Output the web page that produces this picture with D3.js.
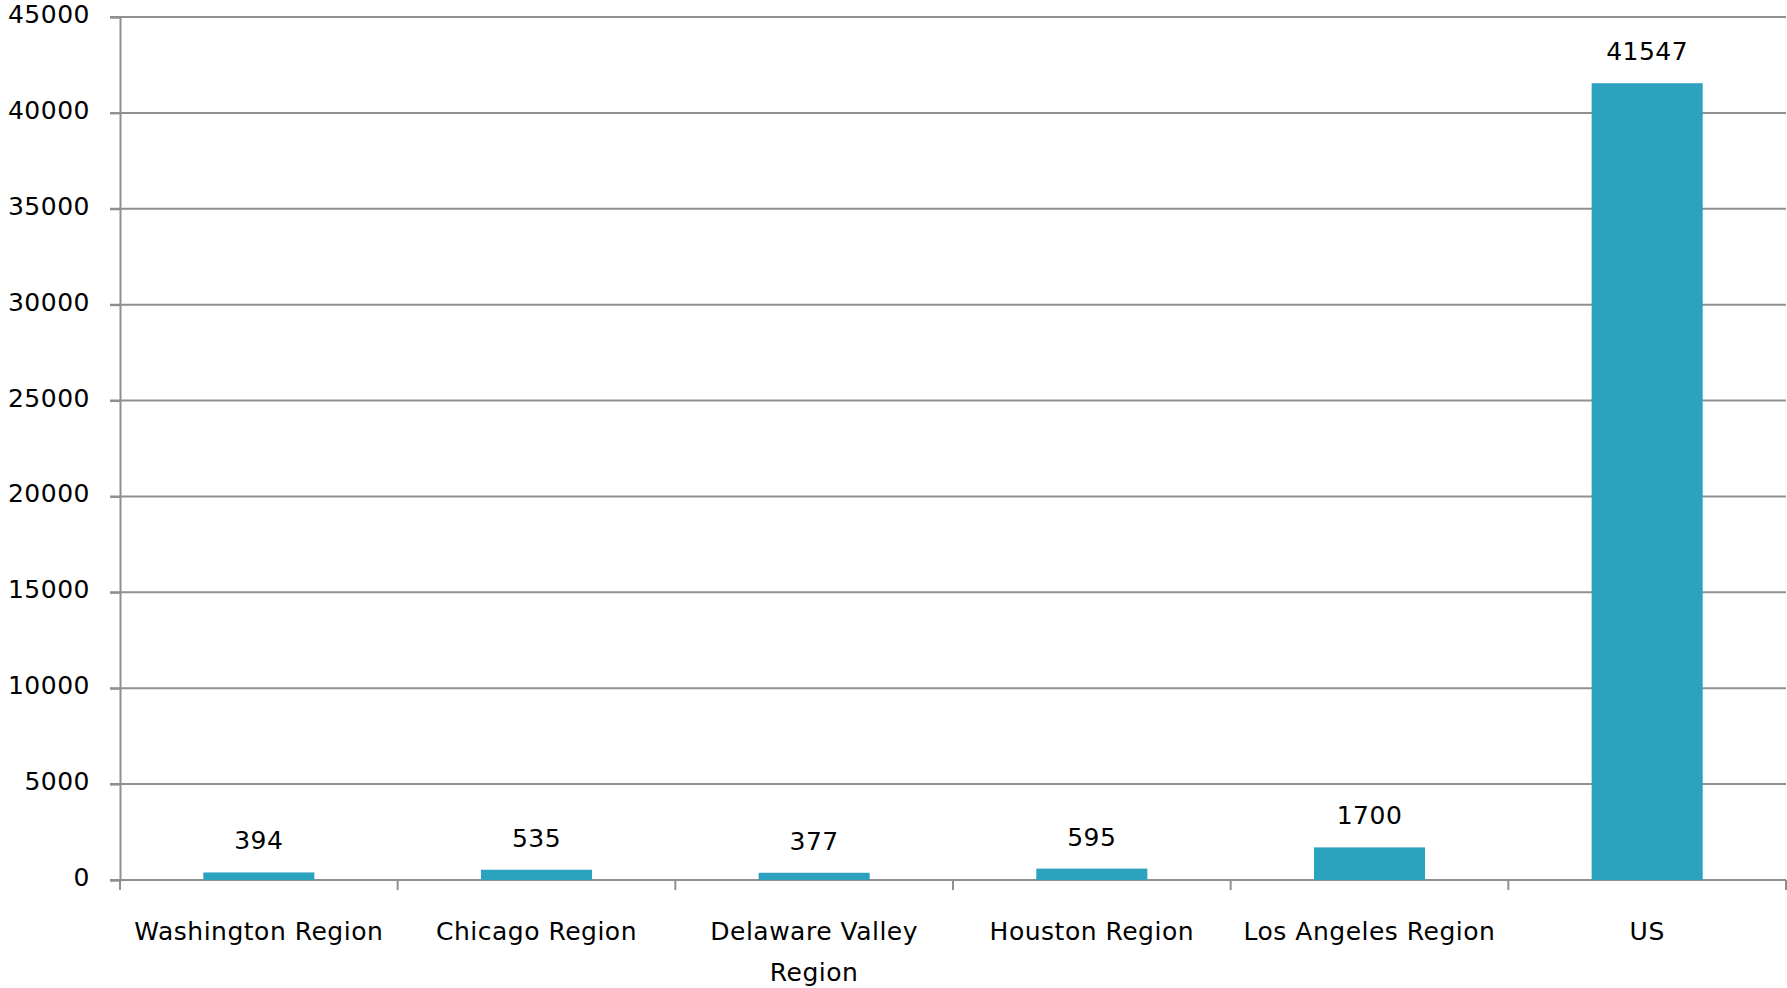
<!DOCTYPE html>
<html>
<head>
<meta charset="utf-8">
<script src="https://cdn.jsdelivr.net/npm/d3@7"></script>
<style>
  body { margin: 0; background: #fff; }
  text { font-family: "DejaVu Sans", sans-serif; fill: #000; letter-spacing: 0.5px; }
</style>
</head>
<body>
<svg id="chart" width="1787" height="988"></svg>
<script>
// chart data
const categories = ["Washington Region", "Chicago Region", "Delaware Valley Region", "Houston Region", "Los Angeles Region", "US"];
const values = [394, 535, 377, 595, 1700, 41547];
const yTicks = [0, 5000, 10000, 15000, 20000, 25000, 30000, 35000, 40000, 45000];

const svg = d3.select("#chart");
// plot area edges (top is a window global, so use other names)
const plotLeft = 120, plotRight = 1786, plotTop = 17, plotBottom = 880;
const gridColor = "#8f8f8f";

let x = d3.scaleBand()
    .domain(categories)
    .range([plotLeft, plotRight]);

let y = d3.scaleLinear()
    .domain([0, 45000])
    .range([plotBottom, plotTop]);

// horizontal gridlines
svg.append("g")
    .selectAll("line")
    .data(yTicks)
    .join("line")
    .attr("x1", plotLeft - 10)
    .attr("x2", plotRight)
    .attr("y1", d => y(d))
    .attr("y2", d => y(d))
    .attr("stroke", gridColor)
    .attr("stroke-width", 2);

// left axis with labels
let yAxis = svg.append("g")
    .attr("transform", `translate(${plotLeft},0)`)
    .call(d3.axisLeft(y).tickValues(yTicks).tickSize(10).tickPadding(20).tickFormat(d3.format("d")));
yAxis.select(".domain").attr("stroke", gridColor).attr("stroke-width", 2);
yAxis.selectAll(".tick line").attr("stroke", gridColor).attr("stroke-width", 2);
yAxis.selectAll("text")
    .attr("font-size", 25)
    .attr("font-family", "DejaVu Sans")
    .attr("fill", "#000")
    .attr("dy", "0.22em");

// category tick marks on the bottom, at the band edges
let edges = categories.map(c => x(c)).concat([plotRight]);
svg.append("g")
    .selectAll("line")
    .data(edges)
    .join("line")
    .attr("x1", d => d)
    .attr("x2", d => d)
    .attr("y1", plotBottom)
    .attr("y2", plotBottom + 10)
    .attr("stroke", gridColor)
    .attr("stroke-width", 2);

// bars
const barWidth = x.bandwidth() * 0.4;
svg.append("g")
    .selectAll("rect")
    .data(values)
    .join("rect")
    .attr("x", (d, i) => x(categories[i]) + (x.bandwidth() - barWidth) / 2)
    .attr("y", d => y(d))
    .attr("width", barWidth)
    .attr("height", d => plotBottom - y(d))
    .attr("fill", "#2ca2bf");

// value labels above the bars
svg.append("g")
    .selectAll("text")
    .data(values)
    .join("text")
    .attr("x", (d, i) => x(categories[i]) + x.bandwidth() / 2)
    .attr("y", d => y(d) - 23)
    .attr("text-anchor", "middle")
    .attr("font-size", 25)
    .text(d => d);

// category labels, wrapped when wider than the band
const maxWidth = x.bandwidth() - 20;
let labels = svg.append("g")
    .selectAll("text")
    .data(categories)
    .join("text")
    .attr("x", d => x(d) + x.bandwidth() / 2)
    .attr("y", 940)
    .attr("text-anchor", "middle")
    .attr("font-size", 25);

labels.each(function(d) {
    let el = d3.select(this);
    let words = d.split(" ");
    let line = [];
    let tspan = el.append("tspan").attr("x", el.attr("x")).attr("dy", 0);
    words.forEach(w => {
        line.push(w);
        tspan.text(line.join(" "));
        if (tspan.node().getComputedTextLength() > maxWidth && line.length > 1) {
            line.pop();
            tspan.text(line.join(" "));
            line = [w];
            tspan = el.append("tspan").attr("x", el.attr("x")).attr("dy", 41).text(w);
        }
    });
});
</script>
</body>
</html>
